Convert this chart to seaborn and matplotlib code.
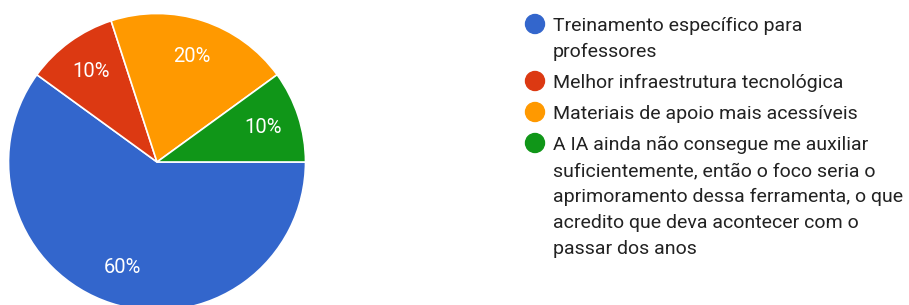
import matplotlib
matplotlib.use("Agg")
import matplotlib.pyplot as plt
from matplotlib.patches import Circle
import seaborn as sns

# survey answers and share of responses (%)
categories = [
    "Treinamento específico para\nprofessores",
    "Melhor infraestrutura tecnológica",
    "Materiais de apoio mais acessíveis",
    "A IA ainda não consegue me auxiliar\nsuficientemente, então o foco seria o\n"
    "aprimoramento dessa ferramenta, o que\nacredito que deva acontecer com o\npassar dos anos",
]
shares = [60, 10, 20, 10]
colors = ["#3366CC", "#DC3912", "#FF9900", "#109618"]

sns.set_theme(style="white")
plt.rcParams["font.family"] = ["Roboto", "DejaVu Sans"]

W, H = 909, 305
fig = plt.figure(figsize=(W / 100, H / 100), dpi=100)

# pie: center (157,162) px, radius 148.5 px
cx, cy, r = 157, 162, 148.5
ax = fig.add_axes([(cx - r) / W, (H - cy - r) / H, 2 * r / W, 2 * r / H])
wedges, _, autotexts = ax.pie(
    shares,
    colors=colors,
    startangle=0,
    counterclock=False,
    autopct="%d%%",
    pctdistance=0.75,
    radius=1,
    wedgeprops={"edgecolor": "white", "linewidth": 1.2},
    textprops={"color": "white", "fontsize": 14.5},
)
ax.set_xlim(-1, 1)
ax.set_ylim(-1, 1)
ax.set_aspect("equal")
ax.axis("off")
for w in wedges:
    w.set_clip_on(False)

# legend drawn by hand to match Google Forms layout
text_x = 553
dot_x = 535
baseline = 31
line_h = 26
item_gap = 31
for label, color in zip(categories, colors):
    fig.add_artist(Circle((dot_x / 100, (H - (baseline - 7)) / 100), 9.5 / 100,
                          transform=fig.dpi_scale_trans, color=color))
    lines = label.split("\n")
    for i, line in enumerate(lines):
        yb = baseline + i * line_h
        fig.text(text_x / W, 1 - yb / H, line, fontsize=14, color="#222222",
                 ha="left", va="baseline")
    baseline += (len(lines) - 1) * line_h + item_gap

fig.savefig("out.png", dpi=100)
